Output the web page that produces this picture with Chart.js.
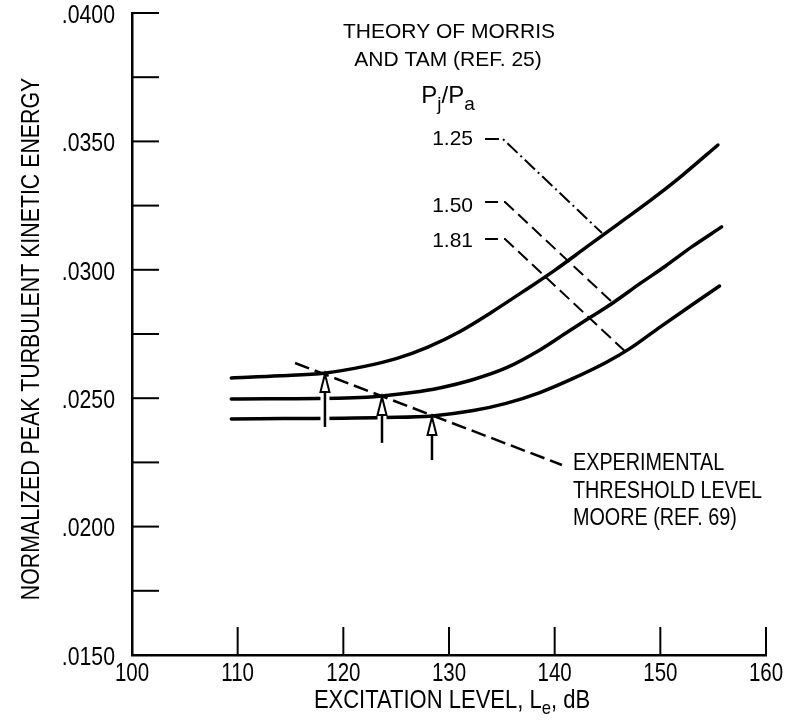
<!DOCTYPE html>
<html><head><meta charset="utf-8">
<script src="https://cdn.jsdelivr.net/npm/chart.js@4.4.1/dist/chart.umd.min.js"></script>
<style>html,body{margin:0;padding:0;background:#fff}canvas{display:block}</style>
</head><body>
<canvas id="c" width="789" height="726"></canvas>
<script>
// ---- axis ticks ----
const xTicks = [100, 110, 120, 130, 140, 150, 160];
const xTickLabels = ['100', '110', '120', '130', '140', '150', '160'];
const yTicks = [0.015, 0.0175, 0.02, 0.0225, 0.025, 0.0275, 0.03, 0.0325, 0.035, 0.0375, 0.04];
const yLabelValues = [0.015, 0.02, 0.025, 0.03, 0.035, 0.04];
const yTickLabels = ['.0150', '.0200', '.0250', '.0300', '.0350', '.0400'];

// ---- theory curves (Pj/Pa) ----
const seriesNames = ['1.25', '1.50', '1.81'];
const x125 = [109.4, 114, 118.3, 122, 125, 128, 131, 134, 137, 140, 143, 146, 149, 152, 155.45];
const y125 = [0.02579, 0.02587, 0.02598, 0.02624, 0.02654, 0.02699, 0.02759, 0.02834, 0.02915, 0.02998, 0.03088, 0.03178, 0.03268, 0.03365, 0.03486];
const x150 = [109.4, 121, 123.66, 126.5, 129.1, 132.3, 135.4, 138.6, 141, 143.3, 145.5, 148.1, 150.5, 153, 155.8];
const y150 = [0.02497, 0.02502, 0.02509, 0.02522, 0.02540, 0.02573, 0.02618, 0.02688, 0.02752, 0.02813, 0.02871, 0.02947, 0.03015, 0.03090, 0.03167];
const x181 = [109.4, 124, 128.39, 132.3, 135.4, 138.6, 141.7, 144.9, 147.1, 150, 152.8, 155.6];
const y181 = [0.02419, 0.02425, 0.02431, 0.02452, 0.02480, 0.02522, 0.02576, 0.02640, 0.02693, 0.02778, 0.02858, 0.02937];

// ---- experimental threshold (Moore) ----
const xThreshold = [115.43, 140.69];
const yThreshold = [0.02637, 0.0224];
const arrowX = [118.26, 123.66, 128.39];
const arrowTop = [0.02598, 0.02509, 0.02431];
const arrowBottom = [0.02388, 0.02326, 0.02259];

// ---- label leaders ----
const x125Lead = [133.41, 135.11, 144.48];
const y125Lead = [0.03509, 0.03509, 0.03143];
const x150Lead = [133.41, 135.30, 145.52];
const y150Lead = [0.03264, 0.03264, 0.02871];
const x181Lead = [133.41, 135.30, 146.65];
const y181Lead = [0.0312, 0.0312, 0.02683];

const pts = (xs, ys) => xs.map((x, i) => ({x, y: ys[i]}));
const FONT = '"Liberation Sans", Arial, sans-serif';

function txt(ctx, s, x, y, size, sx, align) {
  ctx.save();
  ctx.font = size + 'px ' + FONT;
  ctx.textAlign = align || 'left';
  ctx.textBaseline = 'middle';
  ctx.fillStyle = '#000';
  ctx.translate(x, y);
  ctx.scale(sx, 1);
  ctx.fillText(s, 0, 0);
  ctx.restore();
}
function rich(ctx, parts, cx, y, sx) {
  ctx.save();
  ctx.textBaseline = 'middle';
  ctx.fillStyle = '#000';
  let w = 0;
  parts.forEach(p => { ctx.font = p.size + 'px ' + FONT; p.w = ctx.measureText(p.t).width * sx; w += p.w; });
  let x = cx - w / 2;
  parts.forEach(p => {
    ctx.save();
    ctx.font = p.size + 'px ' + FONT;
    ctx.textAlign = 'left';
    ctx.translate(x, y + (p.dy || 0));
    ctx.scale(sx, 1);
    ctx.fillText(p.t, 0, 0);
    ctx.restore();
    x += p.w;
  });
  ctx.restore();
}

const decor = {
  id: 'decor',
  beforeDraw(chart) {
    const ctx = chart.ctx;
    ctx.save();
    ctx.fillStyle = '#fff';
    ctx.fillRect(0, 0, chart.width, chart.height);
    ctx.restore();
  },
  afterDraw(chart) {
    const ctx = chart.ctx;
    const xs = chart.scales.x, ys = chart.scales.y;
    const a = chart.chartArea;
    ctx.save();
    ctx.strokeStyle = '#000';
    ctx.lineWidth = 2;
    ctx.lineCap = 'butt';
    // inward tick marks
    yTicks.forEach(v => {
      const py = ys.getPixelForValue(v);
      ctx.beginPath(); ctx.moveTo(a.left, py); ctx.lineTo(a.left + 27, py); ctx.stroke();
    });
    xTicks.forEach(v => {
      const px = xs.getPixelForValue(v);
      ctx.beginPath(); ctx.moveTo(px, a.bottom); ctx.lineTo(px, a.bottom - 28); ctx.stroke();
    });
    // tick labels
    yLabelValues.forEach((v, i) => txt(ctx, yTickLabels[i], a.left - 17, ys.getPixelForValue(v) + 3, 25, 0.85, 'right'));
    xTicks.forEach((v, i) => txt(ctx, xTickLabels[i], xs.getPixelForValue(v), a.bottom + 19, 25, 0.82, 'center'));
    // axis titles
    rich(ctx, [
      {t: 'EXCITATION LEVEL, L', size: 25},
      {t: 'e', size: 19, dy: 8},
      {t: ', dB', size: 25}
    ], 452, 701, 0.88);
    ctx.save();
    ctx.translate(32, 339);
    ctx.rotate(-Math.PI / 2);
    txt(ctx, 'NORMALIZED PEAK TURBULENT KINETIC ENERGY', 0, 0, 26, 0.82, 'center');
    ctx.restore();

    // arrows (experimental threshold points)
    arrowX.forEach((v, i) => {
      const px = xs.getPixelForValue(v);
      const top = ys.getPixelForValue(arrowTop[i]);
      const bot = ys.getPixelForValue(arrowBottom[i]);
      const headH = 19, headW = 4.5;
      ctx.strokeStyle = '#fff'; ctx.lineWidth = 9;
      ctx.beginPath(); ctx.moveTo(px, bot); ctx.lineTo(px, top + 9); ctx.stroke();
      ctx.strokeStyle = '#000'; ctx.lineWidth = 2.5;
      ctx.beginPath(); ctx.moveTo(px, bot); ctx.lineTo(px, top + headH); ctx.stroke();
      ctx.beginPath();
      ctx.moveTo(px, top + 1);
      ctx.lineTo(px - headW, top + headH);
      ctx.lineTo(px + headW, top + headH);
      ctx.closePath();
      ctx.fillStyle = '#fff'; ctx.fill();
      ctx.lineWidth = 2; ctx.stroke();
    });

    // annotation text
    txt(ctx, 'THEORY OF MORRIS', 449, 32, 21, 1.0, 'center');
    txt(ctx, 'AND TAM (REF. 25)', 448, 60, 21, 1.0, 'center');
    rich(ctx, [
      {t: 'P', size: 24},
      {t: 'j', size: 19, dy: 9},
      {t: '/P', size: 24},
      {t: 'a', size: 19, dy: 9}
    ], 448, 96, 1.0);
    txt(ctx, seriesNames[0], 473, 139, 21, 1.0, 'right');
    txt(ctx, seriesNames[1], 473, 206, 21, 1.0, 'right');
    txt(ctx, seriesNames[2], 473, 241, 21, 1.0, 'right');
    txt(ctx, 'EXPERIMENTAL', 573, 464, 23, 0.86, 'left');
    txt(ctx, 'THRESHOLD LEVEL', 573, 492, 23, 0.86, 'left');
    txt(ctx, 'MOORE (REF. 69)', 573, 519, 23, 0.86, 'left');
    ctx.restore();
  }
};

const curve = (xsArr, ysArr, label) => ({
  label, data: pts(xsArr, ysArr), borderColor: '#000', borderWidth: 3.5,
  pointRadius: 0, fill: false, cubicInterpolationMode: 'monotone', borderCapStyle: 'round'
});
const leader = (xsArr, ysArr, dash) => ({
  label: 'leader', data: pts(xsArr, ysArr), borderColor: '#000', borderWidth: 2,
  pointRadius: 0, fill: false, tension: 0, borderDash: dash
});

new Chart(document.getElementById('c'), {
  type: 'line',
  data: {
    datasets: [
      curve(x125, y125, seriesNames[0]),
      curve(x150, y150, seriesNames[1]),
      curve(x181, y181, seriesNames[2]),
      {label: 'threshold', data: pts(xThreshold, yThreshold), borderColor: '#000', borderWidth: 2.5,
       pointRadius: 0, fill: false, tension: 0, borderDash: [15, 6]},
      leader(x125Lead, y125Lead, [14, 4, 2, 4]),
      leader(x150Lead, y150Lead, [13, 6]),
      leader(x181Lead, y181Lead, [13, 6])
    ]
  },
  options: {
    responsive: false,
    devicePixelRatio: 1,
    animation: false,
    clip: false,
    layout: {padding: {left: 132, right: 23, top: 13, bottom: 71}},
    plugins: {legend: {display: false}, tooltip: {enabled: false}, title: {display: false}},
    scales: {
      x: {type: 'linear', min: 100, max: 160,
          ticks: {display: false}, grid: {display: false, drawTicks: false},
          border: {display: true, color: '#000', width: 2.5},
          afterFit: s => { s.height = 0; }},
      y: {type: 'linear', min: 0.015, max: 0.04,
          ticks: {display: false}, grid: {display: false, drawTicks: false},
          border: {display: true, color: '#000', width: 2.5},
          afterFit: s => { s.width = 0; }}
    }
  },
  plugins: [decor]
});
</script>
</body></html>
